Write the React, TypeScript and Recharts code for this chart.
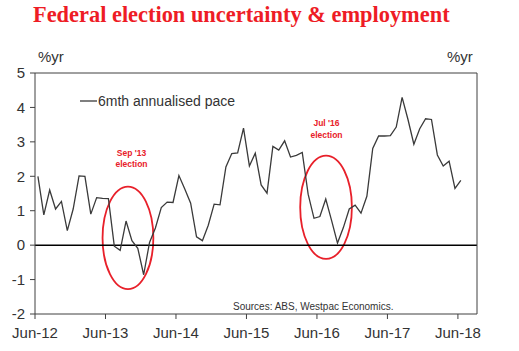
import React from "react";
import {
  LineChart,
  Line,
  XAxis,
  YAxis,
  ReferenceLine,
  ReferenceArea,
} from "recharts";

// monthly, Jun-12 .. Jun-18 (6mth annualised employment growth, %)
const VALUES = [
  2.0, 0.88, 1.6, 1.05, 1.27, 0.42, 1.05, 2.01, 2.0, 0.9, 1.38, 1.36,
  1.35, -0.03, -0.15, 0.7, 0.13, -0.09, -0.86, 0.08, 0.5, 1.09, 1.25, 1.24,
  2.02, 1.63, 1.22, 0.24, 0.13, 0.58, 1.19, 1.17, 2.27, 2.66, 2.68, 3.4,
  2.3, 2.67, 1.75, 1.51, 2.87, 2.76, 3.03, 2.56, 2.61, 2.69, 1.48, 0.78,
  0.83, 1.34, 0.71, 0.06, 0.51, 1.05, 1.16, 0.93, 1.42, 2.81, 3.17, 3.17,
  3.18, 3.43, 4.29, 3.65, 2.93, 3.38, 3.67, 3.65, 2.62, 2.3, 2.44, 1.65,
  1.88,
];

const X_TICKS = [0, 12, 24, 36, 48, 60, 72];
const X_LABELS = ["Jun-12", "Jun-13", "Jun-14", "Jun-15", "Jun-16", "Jun-17", "Jun-18"];
const Y_TICKS = [-2, -1, 0, 1, 2, 3, 4, 5];

// election circles: [x1, x2, y1, y2] in months / %
const SEP13 = [11.5, 20.15, -1.28, 1.7];
const JUL16 = [45.15, 53.95, -0.4, 2.6];

const data = VALUES.map((v, i) => ({ m: i + 0.5, v }));

const AXIS = "#404040";
const RED = "#e8202a";
const FONT = "'Liberation Sans', Arial, sans-serif";

const ellipse = (p: any) => (
  <ellipse
    cx={p.x + p.width / 2}
    cy={p.y + p.height / 2}
    rx={Math.abs(p.width) / 2}
    ry={Math.abs(p.height) / 2}
    fill="none"
    stroke={RED}
    strokeWidth={1.8}
  />
);

export default function App() {
  const tick = { fill: "#333", fontSize: 15, fontFamily: FONT };
  return (
    <div style={{ position: "absolute", left: 0, top: 0, width: 519, height: 351, background: "#fff" }}>
      <LineChart
        width={519}
        height={351}
        data={data}
        margin={{ top: 73, right: 0, left: 0, bottom: 0 }}
      >
        <XAxis
          dataKey="m"
          type="number"
          domain={[0, 75.25]}
          ticks={X_TICKS}
          tickFormatter={(t: number) => X_LABELS[X_TICKS.indexOf(t)]}
          height={37}
          tick={tick}
          tickSize={5}
          tickMargin={8.5}
          stroke={AXIS}
          interval={0}
        />
        <YAxis
          yAxisId="l"
          domain={[-2, 5]}
          ticks={Y_TICKS}
          width={35}
          tick={tick}
          tickSize={5}
          tickMargin={5}
          stroke={AXIS}
          interval={0}
        />
        <YAxis
          yAxisId="r"
          orientation="right"
          domain={[-2, 5]}
          ticks={Y_TICKS}
          width={42}
          tick={{ ...tick, textAnchor: "start" }}
          tickSize={5}
          tickMargin={10}
          stroke={AXIS}
          interval={0}
        />
        <ReferenceLine yAxisId="l" y={5} stroke={AXIS} />
        <ReferenceLine yAxisId="l" y={0} stroke="#000" strokeWidth={1.5} />
        <ReferenceArea
          yAxisId="l"
          x1={SEP13[0]}
          x2={SEP13[1]}
          y1={SEP13[2]}
          y2={SEP13[3]}
          shape={ellipse}
        />
        <ReferenceArea
          yAxisId="l"
          x1={JUL16[0]}
          x2={JUL16[1]}
          y1={JUL16[2]}
          y2={JUL16[3]}
          shape={ellipse}
        />
        <Line
          yAxisId="l"
          type="linear"
          dataKey="v"
          stroke="#3a3a3a"
          strokeWidth={1.3}
          dot={false}
          isAnimationActive={false}
        />
      </LineChart>
      <svg
        width={519}
        height={351}
        style={{ position: "absolute", left: 0, top: 0, pointerEvents: "none" }}
      >
        <text x={33} y={22} fill="#ee1c25" fontFamily="'Liberation Serif', 'Times New Roman', serif" fontWeight="bold" fontSize={22.4}>
          Federal election uncertainty &amp; employment
        </text>
        <text x={38} y={62} fill="#333" fontFamily={FONT} fontSize={15}>%yr</text>
        <text x={447} y={62} fill="#333" fontFamily={FONT} fontSize={15}>%yr</text>
        <line x1={80} x2={97} y1={101} y2={101} stroke="#3a3a3a" strokeWidth={1.3} />
        <text x={98} y={106} fill="#333" fontFamily={FONT} fontSize={14}>6mth annualised pace</text>
        <g fill={RED} fontFamily={FONT} fontWeight="bold" fontSize={8.5} textAnchor="middle">
          <text x={131.5} y={156}>Sep '13</text>
          <text x={131.5} y={167}>election</text>
          <text x={326.5} y={126}>Jul '16</text>
          <text x={326.5} y={138}>election</text>
        </g>
        <text x={233} y={310} fill="#333" fontFamily={FONT} fontSize={10}>Sources: ABS, Westpac Economics.</text>
      </svg>
    </div>
  );
}
